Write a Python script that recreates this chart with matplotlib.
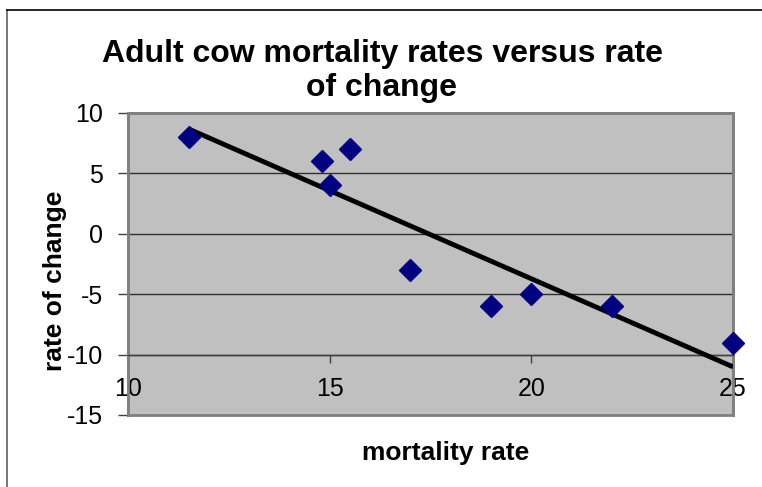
import numpy as np
import matplotlib
matplotlib.use("Agg")
import matplotlib.pyplot as plt
from matplotlib.patches import Rectangle
from matplotlib.lines import Line2D

mortality_rate = [11.5, 14.8, 15.0, 15.5, 17.0, 19.0, 20.0, 22.0, 25.0]
rate_of_change = [8, 6, 4, 7, -3, -6, -5, -6, -9]
x_ticks = [10, 15, 20, 25]
y_ticks = [-15, -10, -5, 0, 5, 10]

plt.rcParams['font.family'] = ['Liberation Sans', 'DejaVu Sans']
plt.rcParams['axes.unicode_minus'] = False

fig = plt.figure(figsize=(7.62, 4.87), dpi=100)
# chart area border
fig.add_artist(Line2D([7/762, 7/762], [0, 1 - 10/487], color='#606060', lw=1.2, transform=fig.transFigure))
fig.add_artist(Line2D([7/762, 1], [1 - 10/487, 1 - 10/487], color='black', lw=1.2, transform=fig.transFigure))

ax = fig.add_axes([128/762, (487-415)/487, (733-128)/762, (415-113)/487])
ax.set_facecolor('#C0C0C0')
ax.set_xlim(10, 25)
ax.set_ylim(-15, 10)

for v in y_ticks[1:-1]:
    ax.axhline(v, color='#303030', lw=1.0, zorder=1)

for s in ['top', 'right', 'left']:
    ax.spines[s].set_color('#808080')
    ax.spines[s].set_linewidth(2)
ax.spines['bottom'].set_position(('data', -10))
ax.spines['bottom'].set_color('#404040')
ax.spines['bottom'].set_linewidth(1)
ax.add_patch(Rectangle((0, 0), 1, 1, transform=ax.transAxes, fill=False,
                       edgecolor='#808080', lw=2, zorder=0.5, clip_on=False))

ax.set_xticks(x_ticks)
ax.set_yticks(y_ticks)
ax.tick_params(axis='x', direction='out', length=6, width=1, color='#404040', pad=10, labelsize=18)
ax.tick_params(axis='y', direction='out', length=7, width=1, color='#404040', pad=11, labelsize=18)

coef = np.polyfit(mortality_rate, rate_of_change, 1)
xl = np.array([min(mortality_rate), max(mortality_rate)])
ax.plot(xl, np.polyval(coef, xl), color='black', lw=3.5, zorder=3, solid_capstyle='butt')

ax.plot(mortality_rate, rate_of_change, linestyle='none', marker='D', markersize=11.5,
        color='#000080', zorder=4, clip_on=False)

fig.text(382/762, 1 - 71/487, 'Adult cow mortality rates versus rate\nof change',
         ha='center', va='center', fontsize=23, fontweight='bold', linespacing=1.2)
fig.text(446/762, 1 - 453/487, 'mortality rate', ha='center', va='center',
         fontsize=19, fontweight='bold')
fig.text(55/762, 1 - 281/487, 'rate of change', ha='center', va='center',
         fontsize=19, fontweight='bold', rotation=90)

fig.savefig('out.png', dpi=100)
